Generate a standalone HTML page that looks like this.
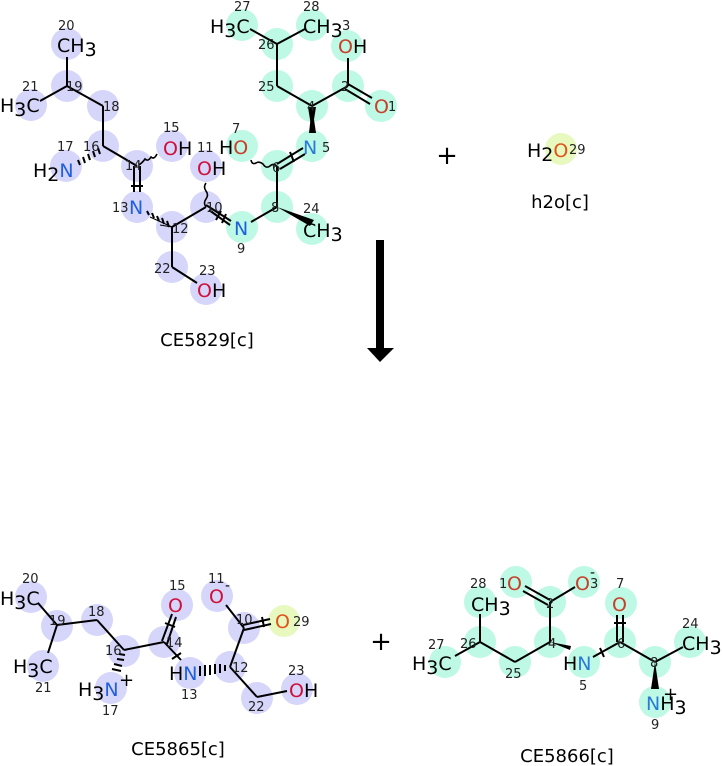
<!DOCTYPE html>
<html><head><meta charset="utf-8"><style>
html,body{margin:0;padding:0;background:#fff}
svg{display:block}
text{font-family:"DejaVu Sans","Liberation Sans",sans-serif}
.a{font-size:19px}
.n{font-size:13px;fill:#222}
.s{font-size:13px}
.t{font-size:18px;fill:#000}
.O{fill:#d0103a}
.Or{fill:#c8402a}
.N{fill:#1f5fe0}
.Nl{fill:#2a7ad8}
line,polyline{stroke:#000;stroke-width:2;fill:none}
.cb{fill:#d6d6fb}
.cg{fill:#bdf9e4}
.cy{fill:#e8f9c0}
</style></head><body>
<svg width="723" height="766" viewBox="0 0 723 766" xmlns="http://www.w3.org/2000/svg">
<!-- TOP MOLECULE circles -->
<g class="cb">
<circle cx="67" cy="44" r="16"/><circle cx="67" cy="86" r="16"/><circle cx="31" cy="105" r="16"/>
<circle cx="103" cy="106" r="16"/><circle cx="103" cy="146" r="16"/><circle cx="66" cy="166" r="16"/>
<circle cx="137" cy="166" r="16"/><circle cx="172" cy="146" r="16"/><circle cx="137" cy="207" r="16"/>
<circle cx="172" cy="227" r="16"/><circle cx="172" cy="267" r="16"/><circle cx="206" cy="289" r="16"/>
<circle cx="206" cy="207" r="16"/><circle cx="206" cy="166" r="16"/>
</g>
<g class="cg">
<circle cx="242" cy="227" r="16"/><circle cx="277" cy="207" r="16"/><circle cx="312" cy="229" r="16"/>
<circle cx="277" cy="166" r="16"/><circle cx="242" cy="146" r="16"/><circle cx="312" cy="146" r="16"/>
<circle cx="312" cy="106" r="16"/><circle cx="277" cy="86" r="16"/><circle cx="277" cy="44" r="16"/>
<circle cx="242" cy="25" r="16"/><circle cx="312" cy="25" r="16"/><circle cx="348" cy="86" r="16"/>
<circle cx="347" cy="46" r="16"/><circle cx="381" cy="106" r="16"/>
</g>
<!-- bonds top -->
<line x1="67" y1="57" x2="67" y2="86"/><line x1="67" y1="86" x2="40" y2="101"/><line x1="67" y1="86" x2="103" y2="106"/>
<line x1="103" y1="106" x2="103" y2="146"/><line x1="103" y1="146" x2="137" y2="166"/>
<line x1="134" y1="166" x2="134" y2="192"/><line x1="140" y1="166" x2="140" y2="192"/>
<line x1="131" y1="186" x2="143" y2="186" stroke-width="1.5"/>
<path d="M139 165 q4 -3 6 -6 q3 3 6 -2 q3 3 6 -3" stroke="#000" stroke-width="1.6" fill="none"/>
<path d="M150 217 L172 227 M160 225 L172 227" stroke="#000" stroke-width="1" fill="none"/>
<g stroke="#000" stroke-width="1.5"><line x1="147" y1="211" x2="149" y2="215"/><line x1="152" y1="213" x2="154" y2="218"/><line x1="157" y1="216" x2="159" y2="221"/><line x1="162" y1="218" x2="164" y2="224"/><line x1="167" y1="221" x2="169" y2="227"/></g>
<g stroke="#000" stroke-width="1.5"><line x1="78" y1="160" x2="80" y2="165"/><line x1="83" y1="157" x2="85" y2="163"/><line x1="88" y1="154" x2="90" y2="160"/><line x1="93" y1="151" x2="95" y2="157"/><line x1="98" y1="148" x2="100" y2="154"/></g>
<line x1="172" y1="227" x2="206" y2="207"/><line x1="172" y1="227" x2="172" y2="267"/><line x1="172" y1="267" x2="197" y2="283"/>
<path d="M206 207 q-3 -4 0 -8 q3 -4 0 -8 q-3 -4 0 -8" stroke="#000" stroke-width="1.6" fill="none"/>
<line x1="206" y1="205" x2="231" y2="221"/><line x1="209" y1="210" x2="230" y2="225"/>
<line x1="221" y1="211" x2="216" y2="220" stroke-width="1.5"/><line x1="226" y1="214" x2="222" y2="223" stroke-width="1.5"/>
<line x1="251" y1="222" x2="277" y2="207"/>
<path d="M277 207 L310 226 L314 220 Z" fill="#000" stroke="none"/>
<line x1="277" y1="207" x2="277" y2="166"/>
<path d="M277 166 q-4 -3 -7 0 q-4 3 -7 -2 q-4 -3 -7 -1 q-4 2 -5 -3" stroke="#000" stroke-width="1.6" fill="none"/>
<line x1="277" y1="164" x2="303" y2="148"/><line x1="280" y1="169" x2="305" y2="154"/>
<line x1="290" y1="152" x2="294" y2="162" stroke-width="1.5"/>
<path d="M312 132 L308 107 L316 107 Z" fill="#000" stroke="none" transform="translate(0,0)"/>
<path d="M309 133 L312 106 L316 133 Z" fill="#000"/>
<line x1="312" y1="106" x2="277" y2="86"/><line x1="312" y1="106" x2="348" y2="86"/>
<line x1="277" y1="86" x2="277" y2="44"/><line x1="277" y1="44" x2="250" y2="29"/><line x1="277" y1="44" x2="305" y2="29"/>
<line x1="348" y1="86" x2="348" y2="58"/>
<line x1="348" y1="84" x2="372" y2="98"/><line x1="345" y1="89" x2="370" y2="104"/>
<!-- top labels -->
<text class="a" x="57" y="52">CH<tspan dy="4">3</tspan></text>
<text class="a" x="0" y="112">H<tspan dy="4">3</tspan><tspan dy="-4">C</tspan></text>
<text class="a" x="33" y="177">H<tspan dy="4">2</tspan><tspan dy="-4" class="N">N</tspan></text>
<text class="a" x="163" y="155"><tspan class="O">O</tspan>H</text>
<text class="a" x="197" y="175"><tspan class="O">O</tspan>H</text>
<text class="a N" x="129" y="214">N</text>
<text class="a N" x="234" y="235">N</text>
<text class="a" x="197" y="297"><tspan class="O">O</tspan>H</text>
<text class="a" x="219" y="154">H<tspan class="Or">O</tspan></text>
<text class="a Nl" x="303" y="154">N</text>
<text class="a" x="303" y="237">CH<tspan dy="4">3</tspan></text>
<text class="a" x="210" y="33">H<tspan dy="4">3</tspan><tspan dy="-4">C</tspan></text>
<text class="a" x="303" y="33">CH<tspan dy="4">3</tspan></text>
<text class="a" x="338" y="53"><tspan class="Or">O</tspan>H</text>
<text class="a Or" x="374" y="113">O</text>
<g class="n">
<text x="58" y="30">20</text><text x="66" y="91">19</text><text x="22" y="91">21</text><text x="103" y="111">18</text>
<text x="83" y="151">16</text><text x="57" y="151">17</text><text x="163" y="132">15</text><text x="125" y="170">14</text>
<text x="197" y="152">11</text><text x="112" y="212">13</text><text x="172" y="233">12</text><text x="206" y="212">10</text>
<text x="154" y="273">22</text><text x="199" y="275">23</text><text x="237" y="253">9</text>
<text x="232" y="133">7</text><text x="272" y="172">6</text><text x="322" y="152">5</text><text x="271" y="212">8</text>
<text x="303" y="213">24</text><text x="307" y="111">4</text><text x="258" y="91">25</text><text x="258" y="49">26</text>
<text x="234" y="11">27</text><text x="303" y="11">28</text><text x="342" y="30">3</text><text x="341" y="91">2</text><text x="388" y="111">1</text>
</g>
<text class="t" x="207" y="346" text-anchor="middle">CE5829[c]</text>
<!-- plus and water -->
<text x="447" y="164" font-size="26" text-anchor="middle">+</text>
<circle cx="561" cy="149" r="16" class="cy"/>
<text class="a" x="527" y="157">H<tspan dy="4">2</tspan><tspan dy="-4" fill="#e0541a">O</tspan></text>
<text class="n" x="569" y="154">29</text>
<text class="t" x="560" y="208" text-anchor="middle">h2o[c]</text>
<!-- arrow -->
<rect x="376" y="240" width="8" height="110" fill="#000"/>
<path d="M367 348 L394 348 L380 362 Z" fill="#000"/>
<!-- BOTTOM LEFT -->
<g class="cb">
<circle cx="31" cy="597" r="16"/><circle cx="57" cy="626" r="16"/><circle cx="43" cy="666" r="16"/>
<circle cx="97" cy="620" r="16"/><circle cx="124" cy="651" r="16"/><circle cx="111" cy="688" r="16"/>
<circle cx="164" cy="642" r="16"/><circle cx="177" cy="605" r="16"/><circle cx="190" cy="673" r="16"/>
<circle cx="230" cy="667" r="16"/><circle cx="244" cy="628" r="16"/><circle cx="217" cy="596" r="16"/>
<circle cx="257" cy="698" r="16"/><circle cx="297" cy="689" r="16"/>
</g>
<circle cx="284" cy="621" r="16" class="cy"/>
<line x1="38" y1="603" x2="57" y2="625"/><line x1="57" y1="625" x2="48" y2="653"/><line x1="57" y1="625" x2="97" y2="620"/>
<line x1="97" y1="620" x2="124" y2="650"/><line x1="124" y1="650" x2="164" y2="642"/>
<line x1="162" y1="641" x2="172" y2="614"/><line x1="167" y1="644" x2="176" y2="617"/><line x1="165" y1="623" x2="175" y2="627" stroke-width="1.5"/>
<line x1="164" y1="642" x2="181" y2="660"/><line x1="172" y1="659" x2="181" y2="653" stroke-width="1.5"/>
<g stroke="#000" stroke-width="1.5"><line x1="119" y1="654" x2="125" y2="655"/><line x1="117" y1="659" x2="124" y2="660"/><line x1="114" y1="664" x2="122" y2="666"/><line x1="112" y1="669" x2="121" y2="671"/></g>
<g stroke="#000" stroke-width="1.5"><line x1="200" y1="666" x2="200" y2="676"/><line x1="205" y1="665" x2="205" y2="676"/><line x1="210" y1="665" x2="210" y2="675"/><line x1="215" y1="664" x2="215" y2="674"/><line x1="220" y1="664" x2="220" y2="673"/><line x1="225" y1="665" x2="225" y2="671"/></g>
<line x1="230" y1="667" x2="244" y2="628"/><line x1="244" y1="628" x2="226" y2="605"/>
<line x1="243" y1="625" x2="270" y2="619"/><line x1="244" y1="630" x2="271" y2="624"/><line x1="262" y1="617" x2="264" y2="627" stroke-width="1.5"/>
<line x1="230" y1="667" x2="257" y2="697"/><line x1="257" y1="697" x2="287" y2="691"/>
<text class="a" x="0" y="605">H<tspan dy="4">3</tspan><tspan dy="-4">C</tspan></text>
<text class="a" x="13" y="673">H<tspan dy="4">3</tspan><tspan dy="-4">C</tspan></text>
<text class="a" x="78" y="696">H<tspan dy="4">3</tspan><tspan dy="-4" class="N">N</tspan></text>
<text x="119" y="686" font-size="18">+</text>
<text class="a O" x="168" y="612">O</text>
<text class="a" x="169" y="680">H<tspan class="N">N</tspan></text>
<text class="a O" x="209" y="603">O</text><text x="225" y="590" font-size="14">-</text>
<text class="a" x="275" y="628" fill="#e0541a">O</text>
<text class="a" x="289" y="697"><tspan class="O">O</tspan>H</text>
<g class="n">
<text x="22" y="583">20</text><text x="49" y="625">19</text><text x="35" y="692">21</text><text x="88" y="616">18</text>
<text x="105" y="655">16</text><text x="102" y="715">17</text><text x="169" y="590">15</text><text x="166" y="647">14</text>
<text x="181" y="699">13</text><text x="232" y="672">12</text><text x="236" y="624">10</text><text x="208" y="583">11</text>
<text x="293" y="626">29</text><text x="248" y="711">22</text><text x="288" y="675">23</text>
</g>
<text class="t" x="178" y="755" text-anchor="middle">CE5865[c]</text>
<text x="381" y="650" font-size="26" text-anchor="middle">+</text>
<!-- BOTTOM RIGHT -->
<g class="cg">
<circle cx="516" cy="582" r="16"/><circle cx="584" cy="582" r="16"/><circle cx="550" cy="602" r="16"/>
<circle cx="480" cy="602" r="16"/><circle cx="480" cy="642" r="16"/><circle cx="445" cy="662" r="16"/>
<circle cx="515" cy="662" r="16"/><circle cx="550" cy="642" r="16"/><circle cx="584" cy="662" r="16"/>
<circle cx="620" cy="642" r="16"/><circle cx="621" cy="603" r="16"/><circle cx="655" cy="662" r="16"/>
<circle cx="690" cy="642" r="16"/><circle cx="655" cy="702" r="16"/>
</g>
<line x1="480" y1="614" x2="480" y2="642"/><line x1="480" y1="642" x2="455" y2="656"/><line x1="480" y1="642" x2="515" y2="662"/>
<line x1="515" y1="662" x2="550" y2="642"/><line x1="550" y1="642" x2="550" y2="602"/>
<line x1="550" y1="600" x2="525" y2="586"/><line x1="548" y1="605" x2="523" y2="591"/>
<line x1="550" y1="602" x2="575" y2="587"/>
<path d="M550 642 L570 650 L571 646 Z" fill="#000"/>
<line x1="593" y1="657" x2="620" y2="642"/><line x1="600" y1="648" x2="604" y2="657" stroke-width="1.5"/>
<line x1="617" y1="642" x2="617" y2="615"/><line x1="623" y1="642" x2="623" y2="615"/><line x1="614" y1="623" x2="626" y2="623" stroke-width="1.5"/>
<line x1="620" y1="642" x2="655" y2="662"/><line x1="655" y1="662" x2="683" y2="647"/>
<path d="M655 662 L651 689 L659 689 Z" fill="#000"/>
<text class="a Or" x="507" y="590">O</text>
<text class="a Or" x="575" y="590">O</text><text x="590" y="577" font-size="14">-</text>
<text class="a Or" x="612" y="611">O</text>
<text class="a" x="471" y="611">CH<tspan dy="4">3</tspan></text>
<text class="a" x="412" y="670">H<tspan dy="4">3</tspan><tspan dy="-4">C</tspan></text>
<text class="a" x="563" y="670">H<tspan class="Nl">N</tspan></text>
<text class="a" x="682" y="650">CH<tspan dy="4">3</tspan></text>
<text class="a" x="646" y="710"><tspan class="Nl">N</tspan>H<tspan dy="4">3</tspan></text>
<text x="663" y="700" font-size="18">+</text>
<g class="n">
<text x="499" y="588">1</text><text x="590" y="588">3</text><text x="546" y="608">2</text>
<text x="470" y="588">28</text><text x="460" y="648">26</text><text x="428" y="649">27</text><text x="505" y="678">25</text>
<text x="548" y="648">4</text><text x="579" y="690">5</text><text x="617" y="648">6</text><text x="616" y="588">7</text>
<text x="650" y="667">8</text><text x="682" y="628">24</text><text x="651" y="729">9</text>
</g>
<text class="t" x="567" y="762" text-anchor="middle">CE5866[c]</text>
</svg>
</body></html>
